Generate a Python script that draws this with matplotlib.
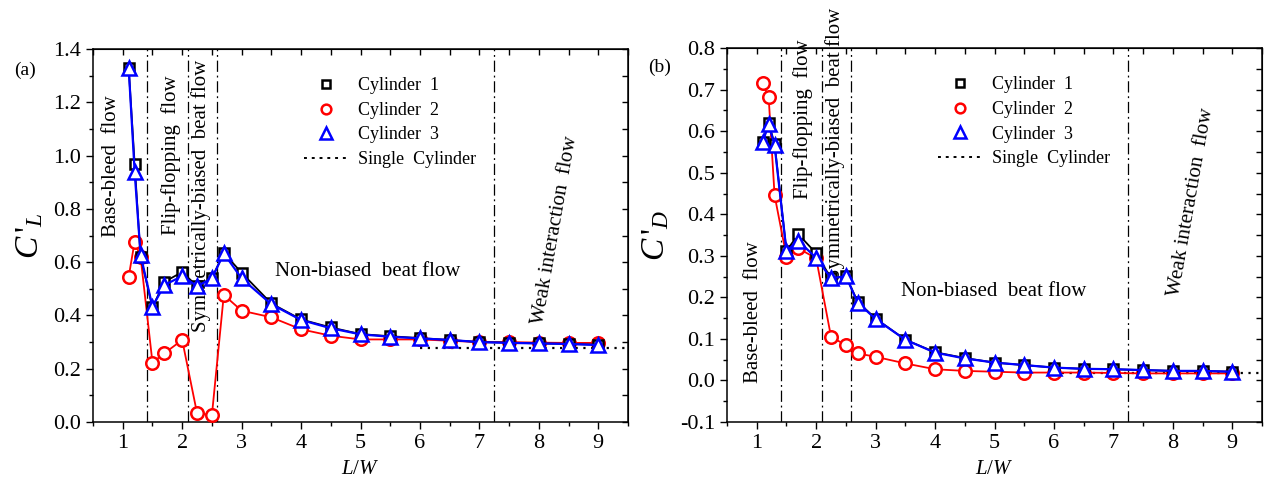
import numpy as np
import matplotlib
matplotlib.use('Agg')
import matplotlib.pyplot as plt
from matplotlib.lines import Line2D
from matplotlib.ticker import MultipleLocator

plt.rcParams['font.family'] = ['Liberation Serif', 'DejaVu Serif']
plt.rcParams['mathtext.fontset'] = 'custom'
plt.rcParams['mathtext.rm'] = 'Liberation Serif'
plt.rcParams['mathtext.it'] = 'Liberation Serif:italic'
plt.rcParams['axes.unicode_minus'] = False

# L/W 间距
lw_ratio = [1.1, 1.2, 1.3, 1.5, 1.7, 2.0, 2.25, 2.5, 2.7, 3.0, 3.5, 4.0,
            4.5, 5.0, 5.5, 6.0, 6.5, 7.0, 7.5, 8.0, 8.5, 9.0]

# (a) 升力系数脉动值
cl_cyl1 = [1.33, 0.97, 0.62, 0.43, 0.526, 0.563, 0.51, 0.54, 0.635, 0.56, 0.445,
           0.385, 0.355, 0.33, 0.322, 0.315, 0.308, 0.30, 0.298, 0.295, 0.293, 0.29]
cl_cyl2 = [0.545, 0.677, 0.62, 0.223, 0.258, 0.308, 0.033, 0.026, 0.477, 0.418, 0.393,
           0.348, 0.324, 0.31, 0.31, 0.31, 0.305, 0.30, 0.30, 0.298, 0.297, 0.297]
cl_cyl3 = [1.33, 0.94, 0.627, 0.433, 0.514, 0.548, 0.51, 0.539, 0.633, 0.539, 0.442,
           0.383, 0.352, 0.329, 0.32, 0.314, 0.308, 0.30, 0.297, 0.295, 0.293, 0.289]
cl_single = 0.277

# (b) 阻力系数脉动值
cd_cyl1 = [0.575, 0.62, 0.57, 0.312, 0.352, 0.306, 0.246, 0.251, 0.189, 0.149, 0.098,
           0.068, 0.054, 0.043, 0.037, 0.031, 0.028, 0.027, 0.025, 0.023, 0.023, 0.021]
cd_cyl2 = [0.715, 0.683, 0.446, 0.298, 0.318, 0.294, 0.105, 0.085, 0.065, 0.057, 0.041,
           0.027, 0.023, 0.021, 0.019, 0.019, 0.019, 0.018, 0.017, 0.017, 0.017, 0.017]
cd_cyl3 = [0.574, 0.617, 0.566, 0.312, 0.336, 0.295, 0.246, 0.251, 0.187, 0.148, 0.098,
           0.067, 0.053, 0.043, 0.037, 0.031, 0.028, 0.027, 0.025, 0.023, 0.023, 0.021]
cd_single = 0.017

# 流态分界线
regime_bounds = [1.4, 2.1, 2.58, 7.25]
single_start = 6.0


def style_axes(ax, ymin, ymax, ymajor, yminor):
    ax.set_xlim(0.5, 9.5)
    ax.set_ylim(ymin, ymax)
    ax.xaxis.set_major_locator(MultipleLocator(1))
    ax.xaxis.set_minor_locator(MultipleLocator(0.5))
    ax.yaxis.set_major_locator(MultipleLocator(ymajor))
    ax.yaxis.set_minor_locator(MultipleLocator(yminor))
    ax.tick_params(which='both', direction='out', top=False, right=False,
                   labelsize=16, width=1.0)
    ax.tick_params(which='major', length=5)
    ax.tick_params(which='minor', length=3)
    # 上、右两侧内向刻度
    sec_x = ax.secondary_xaxis('top')
    sec_x.xaxis.set_major_locator(MultipleLocator(0.5))
    sec_x.tick_params(direction='in', length=4, labeltop=False, width=1.0)
    sec_y = ax.secondary_yaxis('right')
    sec_y.yaxis.set_major_locator(MultipleLocator(yminor))
    sec_y.tick_params(direction='in', length=4, labelright=False, width=1.0)
    for s in ax.spines.values():
        s.set_linewidth(1.1)
    ax.set_xlabel('$L/W$', fontsize=15, labelpad=5)


def plot_panel(ax, c1, c2, c3, single):
    for xb in regime_bounds:
        ax.axvline(xb, color='black', lw=0.9, ls=(0, (9, 3, 1.5, 3)), zorder=1)
    ax.plot([single_start, 9.5], [single, single], color='black', lw=1.6,
            ls=(0, (1, 2.5)), zorder=2)
    ax.plot(lw_ratio, c2, color='red', lw=1.3, marker='o', ms=9, mew=1.8,
            mfc='white', zorder=3)
    ax.plot(lw_ratio, c1, color='black', lw=1.3, marker='s', ms=7.5, mew=1.8,
            mfc='white', zorder=4)
    ax.plot(lw_ratio, c3, color='blue', lw=1.6, marker='^', ms=10, mew=1.8,
            mfc='white', zorder=5)
    handles = [
        Line2D([], [], color='black', marker='s', ls='none', ms=6, mew=1.8, mfc='white'),
        Line2D([], [], color='red', marker='o', ls='none', ms=7, mew=1.8, mfc='white'),
        Line2D([], [], color='blue', marker='^', ls='none', ms=8, mew=1.8, mfc='white'),
        Line2D([], [], color='black', lw=1.4, ls=(0, (1.5, 2.5))),
    ]
    labels = ['Cylinder  1', 'Cylinder  2', 'Cylinder  3', 'Single  Cylinder']
    ax.legend(handles, labels, loc='upper left', bbox_to_anchor=(0.364, 0.968),
              frameon=False, fontsize=13, handlelength=2.4, handletextpad=0.6,
              labelspacing=0.42)


fig = plt.figure(figsize=(12.69, 4.83), dpi=100)
ax1 = fig.add_axes([0.0733, 0.1263, 0.4216, 0.772])
ax2 = fig.add_axes([0.5729, 0.1263, 0.4216, 0.774])

plot_panel(ax1, cl_cyl1, cl_cyl2, cl_cyl3, cl_single)
style_axes(ax1, 0.0, 1.4, 0.2, 0.1)
ax1.set_ylabel("$C\\,'_L$", fontsize=24, labelpad=6)

plot_panel(ax2, cd_cyl1, cd_cyl2, cd_cyl3, cd_single)
style_axes(ax2, -0.1, 0.8, 0.1, 0.05)
ax2.set_ylabel("$C\\,'_D$", fontsize=24, labelpad=6)

fs = 15
ax1.text(0.81, 0.96, 'Base-bleed  flow', rotation=90, ha='center', va='center', fontsize=fs)
ax1.text(1.81, 1.0, 'Flip-flopping  flow', rotation=90, ha='center', va='center', fontsize=fs)
ax1.text(2.31, 0.85, 'Symmetrically-biased  beat flow', rotation=90, ha='center', va='center', fontsize=fs)
ax1.text(5.12, 0.565, 'Non-biased  beat flow', ha='center', va='center', fontsize=fs)
ax1.text(8.28, 0.72, 'Weak interaction  flow', rotation=80, ha='center', va='center', fontsize=fs)

ax2.text(0.95, 0.165, 'Base-bleed  flow', rotation=90, ha='center', va='center', fontsize=fs)
ax2.text(1.78, 0.63, 'Flip-flopping  flow', rotation=90, ha='center', va='center', fontsize=fs)
ax2.text(2.31, 0.57, 'Symmetrically-biased  beat flow', rotation=90, ha='center', va='center',
         fontsize=fs, clip_on=False)
ax2.text(4.99, 0.213, 'Non-biased  beat flow', ha='center', va='center', fontsize=fs)
ax2.text(8.3, 0.43, 'Weak interaction  flow', rotation=80, ha='center', va='center', fontsize=fs)

fig.text(25 / 1269, 1 - 70 / 483, '(a)', ha='center', va='center', fontsize=14)
fig.text(660 / 1269, 1 - 67 / 483, '(b)', ha='center', va='center', fontsize=14)

fig.savefig('out.png', dpi=100)
